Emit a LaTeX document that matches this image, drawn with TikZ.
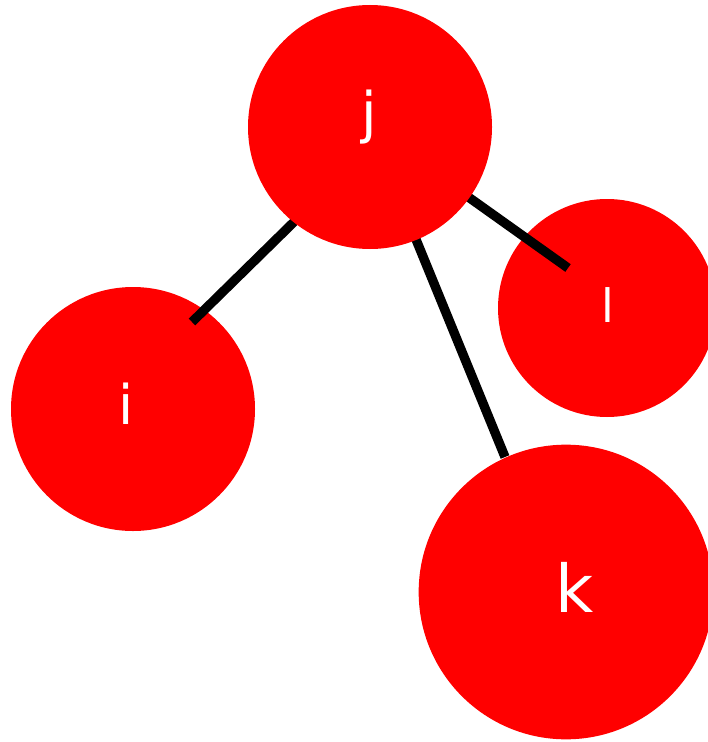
\documentclass[tikz,border=0pt]{standalone}
\usepackage{fontspec}
\setmainfont{DejaVu Sans}
\definecolor{ballred}{RGB}{255,0,0}
\begin{document}
\begin{tikzpicture}[x=0.75pt,y=-0.75pt,
  ball/.style={circle,fill=ballred,draw=none,inner sep=0pt,minimum size=#1},
  letter/.style={text=white,anchor=base,inner sep=0pt},
  link/.style={line width=7pt,line cap=butt,draw=black}]
  \useasboundingbox (0,0) rectangle (707,742);
  % lower balls sit under the links
  \node[ball=183pt] (i) at (133,409) {};
  \node[ball=163.5pt] (l) at (607,308) {};
  % free ends of the links
  \coordinate (ei) at (192,322);
  \coordinate (si) at (300,216);
  \coordinate (el) at (568,268);
  \coordinate (ek) at (505,457);
  \draw[link] (si) -- (ei);
  \draw[link] (370,127) coordinate (jc) -- (el);
  \draw[link] (jc) -- (ek);
  % balls drawn over the links
  \node[ball=183pt] (j) at (jc) {};
  \node[ball=221pt] (k) at (566,592) {};
  % labels
  \node[letter,font=\fontsize{41}{41}\selectfont] (ti) at (126,424) {i};
  \node[letter,font=\fontsize{42}{42}\selectfont] (tj) at (369,132) {j};
  \node[letter,font=\fontsize{49.5}{49.5}\selectfont] (tk) at (575,612) {k};
  \node[letter,font=\fontsize{34.5}{34.5}\selectfont] (tl) at (608,322) {l};
\end{tikzpicture}
\end{document}
